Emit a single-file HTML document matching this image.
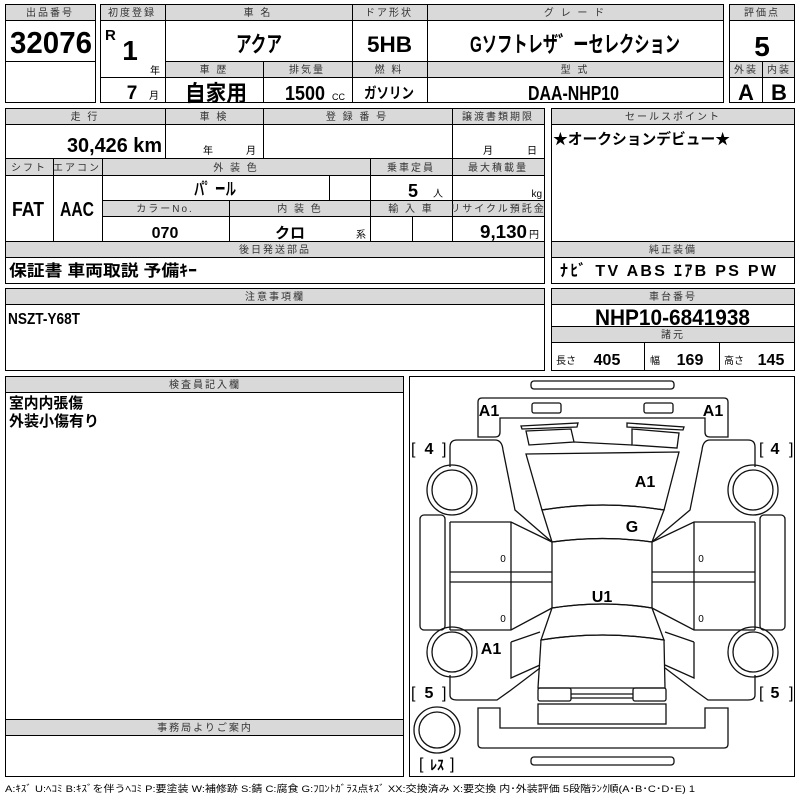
<!DOCTYPE html>
<html><head><meta charset="utf-8"><style>
html,body{margin:0;padding:0;background:#fff;width:800px;height:800px;overflow:hidden}
svg{display:block}
text{font-family:"Liberation Sans","Noto Sans CJK JP",sans-serif;fill:#000}
.h{font-size:10px;fill:#333;text-anchor:middle;letter-spacing:2px}
.b{font-weight:bold;font-family:"Liberation Sans Narrow","Liberation Sans","Noto Sans CJK JP",sans-serif}
.m{text-anchor:middle}
.e{text-anchor:end}
.g{fill:#d9d9d9}
.l{stroke:#000;stroke-width:1;fill:none}
.d{stroke:#111;stroke-width:1.3;fill:none}
</style></head><body>
<svg width="800" height="800" viewBox="0 0 800 800" xmlns="http://www.w3.org/2000/svg">
<!-- Box1 -->
<rect class="g" x="5" y="4" width="90" height="16"/>
<rect class="l" x="5.5" y="4.5" width="90" height="98"/>
<line class="l" x1="5" y1="20.5" x2="95" y2="20.5"/><line class="l" x1="5" y1="61.5" x2="95" y2="61.5"/>
<text class="h" x="50" y="16">出品番号</text>
<text class="b" x="10" y="53" font-size="31" textLength="82" lengthAdjust="spacingAndGlyphs">32076</text>
<!-- Box2 -->
<rect class="g" x="100" y="4" width="623" height="16"/>
<rect class="g" x="165" y="61" width="558" height="16"/>
<rect class="l" x="100.5" y="4.5" width="623" height="98"/>
<line class="l" x1="100" y1="20.5" x2="723" y2="20.5"/>
<line class="l" x1="165" y1="61.5" x2="723" y2="61.5"/>
<line class="l" x1="100" y1="77.5" x2="723" y2="77.5"/>
<line class="l" x1="165.5" y1="4" x2="165.5" y2="102"/>
<line class="l" x1="352.5" y1="4" x2="352.5" y2="102"/>
<line class="l" x1="427.5" y1="4" x2="427.5" y2="102"/>
<line class="l" x1="263.5" y1="61" x2="263.5" y2="102"/>
<text class="h" x="132" y="16" letter-spacing="0">初度登録</text>
<text class="h" x="258" y="16">車 名</text>
<text class="h" x="389" y="16" letter-spacing="0">ドア形状</text>
<text class="h" x="575" y="16">グ レ ー ド</text>
<text class="b" x="105" y="40" font-size="15">R</text>
<text class="b m" x="130" y="60" font-size="28">1</text>
<text x="150" y="74" font-size="10">年</text>
<text class="b" x="236" y="52" font-size="22" textLength="46" lengthAdjust="spacingAndGlyphs">アクア</text>
<text class="b" x="367" y="52" font-size="22" textLength="45" lengthAdjust="spacingAndGlyphs">5HB</text>
<text class="b" x="470" y="52" font-size="22" textLength="210" lengthAdjust="spacingAndGlyphs">Gソフトレザ゛ーセレクション</text>
<text class="h" x="214" y="73">車 歴</text>
<text class="h" x="307" y="73">排気量</text>
<text class="h" x="389" y="73">燃 料</text>
<text class="h" x="575" y="73">型 式</text>
<text class="b m" x="132" y="99" font-size="19">7</text>
<text x="149" y="99" font-size="10">月</text>
<text class="b" x="185" y="101" font-size="22" textLength="62" lengthAdjust="spacingAndGlyphs">自家用</text>
<text class="b" x="285" y="100" font-size="20" textLength="40" lengthAdjust="spacingAndGlyphs">1500</text>
<text x="332" y="100" font-size="9">CC</text>
<text class="b" x="364" y="98" font-size="15" textLength="50" lengthAdjust="spacingAndGlyphs">ガソリン</text>
<text class="b" x="528" y="100" font-size="20" textLength="91" lengthAdjust="spacingAndGlyphs">DAA-NHP10</text>
<!-- Box3 -->
<rect class="g" x="729" y="4" width="66" height="16"/>
<rect class="g" x="729" y="61" width="66" height="16"/>
<rect class="l" x="729.5" y="4.5" width="65" height="98"/>
<line class="l" x1="729" y1="20.5" x2="795" y2="20.5"/>
<line class="l" x1="729" y1="61.5" x2="795" y2="61.5"/>
<line class="l" x1="729" y1="77.5" x2="795" y2="77.5"/>
<line class="l" x1="762.5" y1="61" x2="762.5" y2="102"/>
<text class="h" x="762" y="16" letter-spacing="0">評価点</text>
<text class="b m" x="762" y="56" font-size="28">5</text>
<text class="h" x="746" y="73" letter-spacing="0">外装</text>
<text class="h" x="779" y="73" letter-spacing="0">内装</text>
<text class="b m" x="746" y="100" font-size="22">A</text>
<text class="b m" x="779" y="100" font-size="22">B</text>
<!-- Row2 left -->
<rect class="g" x="5" y="108" width="540" height="16"/>
<rect class="g" x="5" y="158" width="540" height="17"/>
<rect class="g" x="102" y="200" width="443" height="16"/>
<rect class="g" x="5" y="241" width="540" height="16"/>
<rect class="l" x="5.5" y="108.5" width="539" height="175"/>
<line class="l" x1="5" y1="124.5" x2="545" y2="124.5"/>
<line class="l" x1="5" y1="158.5" x2="545" y2="158.5"/>
<line class="l" x1="5" y1="175.5" x2="545" y2="175.5"/>
<line class="l" x1="102" y1="200.5" x2="545" y2="200.5"/>
<line class="l" x1="102" y1="216.5" x2="545" y2="216.5"/>
<line class="l" x1="5" y1="241.5" x2="545" y2="241.5"/>
<line class="l" x1="5" y1="257.5" x2="545" y2="257.5"/>
<line class="l" x1="165.5" y1="108" x2="165.5" y2="158"/>
<line class="l" x1="263.5" y1="108" x2="263.5" y2="158"/>
<line class="l" x1="452.5" y1="108" x2="452.5" y2="241"/>
<line class="l" x1="53.5" y1="158" x2="53.5" y2="241"/>
<line class="l" x1="102.5" y1="158" x2="102.5" y2="241"/>
<line class="l" x1="370.5" y1="158" x2="370.5" y2="241"/>
<line class="l" x1="329.5" y1="175" x2="329.5" y2="200"/>
<line class="l" x1="229.5" y1="200" x2="229.5" y2="241"/>
<line class="l" x1="412.5" y1="216" x2="412.5" y2="241"/>
<text class="h" x="85" y="120">走 行</text>
<text class="h" x="214" y="120">車 検</text>
<text class="h" x="357" y="120">登 録 番 号</text>
<text class="h" x="498" y="120" letter-spacing="0">譲渡書類期限</text>
<text class="b" x="67" y="152" font-size="20" textLength="95" lengthAdjust="spacingAndGlyphs">30,426 km</text>
<text x="203" y="154" font-size="10">年</text><text x="246" y="154" font-size="10">月</text>
<text x="483" y="154" font-size="10">月</text><text x="527" y="154" font-size="10">日</text>
<text class="h" x="29" y="171" letter-spacing="0">シフト</text>
<text class="h" x="77" y="171" letter-spacing="0">エアコン</text>
<text class="h" x="236" y="171">外 装 色</text>
<text class="h" x="411" y="171" letter-spacing="0">乗車定員</text>
<text class="h" x="498" y="171" letter-spacing="0">最大積載量</text>
<text class="b" x="12" y="216" font-size="20" textLength="32" lengthAdjust="spacingAndGlyphs">FAT</text>
<text class="b" x="60" y="216" font-size="20" textLength="34" lengthAdjust="spacingAndGlyphs">AAC</text>
<text class="b" x="194" y="195" font-size="17" textLength="42" lengthAdjust="spacingAndGlyphs">パ゜ール</text>
<text class="b m" x="413" y="197" font-size="18">5</text>
<text x="433" y="197" font-size="10">人</text>
<text class="e" x="542" y="197" font-size="10">kg</text>
<text class="h" x="165" y="212" letter-spacing="3">カラーNo.</text>
<text class="h" x="300" y="212">内 装 色</text>
<text class="h" x="411" y="212">輸 入 車</text>
<text class="h" x="498" y="212" letter-spacing="0">リサイクル預託金</text>
<text class="b m" x="165" y="238" font-size="16">070</text>
<text class="b m" x="290" y="238" font-size="15">クロ</text>
<text class="e" x="366" y="238" font-size="10">系</text>
<text class="b" x="480" y="238" font-size="18" textLength="47" lengthAdjust="spacingAndGlyphs">9,130</text>
<text x="529" y="238" font-size="10">円</text>
<text class="h" x="275" y="253" letter-spacing="3">後日発送部品</text>
<text class="b" x="9" y="276" font-size="16" textLength="188" lengthAdjust="spacingAndGlyphs">保証書 車両取説 予備ｷｰ</text>
<!-- Row2 right -->
<rect class="g" x="551" y="108" width="244" height="16"/>
<rect class="g" x="551" y="241" width="244" height="16"/>
<rect class="l" x="551.5" y="108.5" width="243" height="175"/>
<line class="l" x1="551" y1="124.5" x2="795" y2="124.5"/>
<line class="l" x1="551" y1="241.5" x2="795" y2="241.5"/>
<line class="l" x1="551" y1="257.5" x2="795" y2="257.5"/>
<text class="h" x="673" y="120" letter-spacing="5">セールスポイント</text>
<text class="b" x="553" y="144" font-size="15" textLength="177" lengthAdjust="spacingAndGlyphs">★オークションデビュー★</text>
<text class="h" x="673" y="253" letter-spacing="4">純正装備</text>
<text class="b" x="560" y="276" font-size="16" textLength="216" lengthAdjust="spacing">ﾅﾋﾞ  TV  ABS ｴｱB PS PW</text>
<!-- Row3 -->
<rect class="g" x="5" y="288" width="540" height="16"/>
<rect class="l" x="5.5" y="288.5" width="539" height="82"/>
<line class="l" x1="5" y1="304.5" x2="545" y2="304.5"/>
<text class="h" x="275" y="300">注意事項欄</text>
<text class="b" x="8" y="324" font-size="16" textLength="72" lengthAdjust="spacingAndGlyphs">NSZT-Y68T</text>
<rect class="g" x="551" y="288" width="244" height="16"/>
<rect class="g" x="551" y="326" width="244" height="16"/>
<rect class="l" x="551.5" y="288.5" width="243" height="82"/>
<line class="l" x1="551" y1="304.5" x2="795" y2="304.5"/>
<line class="l" x1="551" y1="326.5" x2="795" y2="326.5"/>
<line class="l" x1="551" y1="342.5" x2="795" y2="342.5"/>
<line class="l" x1="644.5" y1="342" x2="644.5" y2="370"/>
<line class="l" x1="719.5" y1="342" x2="719.5" y2="370"/>
<text class="h" x="673" y="300">車台番号</text>
<text class="b" x="595" y="325" font-size="22" textLength="155" lengthAdjust="spacingAndGlyphs">NHP10-6841938</text>
<text class="h" x="673" y="338">諸元</text>
<text x="556" y="364" font-size="10">長さ</text>
<text class="b m" x="607" y="365" font-size="16">405</text>
<text x="650" y="364" font-size="10">幅</text>
<text class="b m" x="690" y="365" font-size="16">169</text>
<text x="724" y="364" font-size="10">高さ</text>
<text class="b m" x="771" y="365" font-size="16">145</text>
<!-- Row4 left -->
<rect class="g" x="5" y="376" width="399" height="16"/>
<rect class="g" x="5" y="719" width="399" height="16"/>
<rect class="l" x="5.5" y="376.5" width="398" height="400"/>
<line class="l" x1="5" y1="392.5" x2="404" y2="392.5"/>
<line class="l" x1="5" y1="719.5" x2="404" y2="719.5"/>
<line class="l" x1="5" y1="735.5" x2="404" y2="735.5"/>
<text class="h" x="205" y="388" letter-spacing="4">検査員記入欄</text>
<text class="b" x="9" y="408" font-size="15" textLength="74" lengthAdjust="spacingAndGlyphs">室内内張傷</text>
<text class="b" x="9" y="426" font-size="15" textLength="90" lengthAdjust="spacingAndGlyphs">外装小傷有り</text>
<text class="h" x="205" y="731" letter-spacing="6">事務局よりご案内</text>
<!-- Diagram -->
<rect class="l" x="409.5" y="376.5" width="385" height="400"/>
<g class="d">
<rect x="531" y="381" width="143" height="8" rx="3"/>
<path d="M478 437 L478 402 Q478 398 482 398 L724 398 Q728 398 728 402 L728 437 L710 437 Q705 437 705 432 L705 418 L500 418 L500 432 Q500 437 495 437 Z"/>
<rect x="532" y="403" width="29" height="10" rx="2"/>
<rect x="644" y="403" width="29" height="10" rx="2"/>
<path d="M521 426 L578 423 L577 427 L522 429 Z"/>
<path d="M526 431 L571 429 L574 442 L529 445 Z"/>
<path d="M627 423 L684 427 L683 430 L627 427 Z"/>
<path d="M632 429 L679 433 L677 448 L632 445 Z"/>
<path d="M574 442 L632 445"/>
<path d="M526 454 L679 452 L664 510 Q603 500 542 510 Z"/>
<path d="M542 510 Q603 500 664 510 L652 542 Q603 535 552 542 Z"/>
<path d="M552 542 Q603 535 652 542 L652 608 Q603 600 552 608 Z"/>
<path d="M552 608 Q603 600 652 608 L664 640 Q603 630 541 640 Z"/>
<path d="M541 640 Q603 630 664 640 L665 688 L538 688 Z"/>
<rect x="538" y="688" width="33" height="13" rx="2"/>
<rect x="633" y="688" width="33" height="13" rx="2"/>
<path d="M571 694 L633 694 M571 698 L633 698"/>
<rect x="538" y="704" width="128" height="20"/>
<path d="M478 708 L478 744 Q478 748 482 748 L724 748 Q728 748 728 744 L728 708 L705 708 L705 728 L500 728 L500 708 Z"/>
<rect x="531" y="757" width="143" height="8" rx="3"/>
<path d="M450 467 L450 447 Q450 440 457 440 L495 440 Q502 440 503 450 L515 510 L552 542"/>
<path d="M450 522 L511 522 L552 542 M511 522 L511 630 M450 630 L511 630 L552 608 M450 522 L450 630"/>
<path d="M450 572 L552 572 M450 582 L552 582"/>
<rect x="420" y="515" width="25" height="115" rx="4"/>
<path d="M511 642 L540 632 M511 642 L511 678 L540 665"/>
<path d="M450 675 L450 695 Q450 700 457 700 L497 700 L511 690 L540 668"/>
<path d="M755 467 L755 447 Q755 440 748 440 L710 440 Q703 440 702 450 L690 510 L652 542"/>
<path d="M755 522 L694 522 L652 542 M694 522 L694 630 M755 630 L694 630 L652 608 M755 522 L755 630"/>
<path d="M755 572 L652 572 M755 582 L652 582"/>
<rect x="760" y="515" width="25" height="115" rx="4"/>
<path d="M694 642 L665 632 M694 642 L694 678 L665 665"/>
<path d="M755 675 L755 695 Q755 700 748 700 L708 700 L694 690 L665 668"/>
<circle cx="452" cy="490" r="25"/><circle cx="452" cy="490" r="20"/>
<circle cx="753" cy="490" r="25"/><circle cx="753" cy="490" r="20"/>
<circle cx="452" cy="652" r="25"/><circle cx="452" cy="652" r="20"/>
<circle cx="753" cy="652" r="25"/><circle cx="753" cy="652" r="20"/>
<circle cx="437" cy="730" r="23"/><circle cx="437" cy="730" r="18"/>
</g>
<g font-size="10"><text class="m" x="503" y="562">0</text><text class="m" x="503" y="622">0</text><text class="m" x="701" y="562">0</text><text class="m" x="701" y="622">0</text></g>
<g class="b" font-size="16">
<text class="m" x="489" y="416">A1</text>
<text class="m" x="713" y="416">A1</text>
<text class="m" x="645" y="487">A1</text>
<text class="m" x="632" y="532">G</text>
<text class="m" x="602" y="602">U1</text>
<text class="m" x="491" y="654">A1</text>
<text x="411" y="454" font-weight="normal">[ </text><text class="m" x="429" y="454">4</text><text x="442" y="454" font-weight="normal">]</text>
<text x="759" y="454" font-weight="normal">[ </text><text class="m" x="775" y="454">4</text><text x="789" y="454" font-weight="normal">]</text>
<text x="411" y="698" font-weight="normal">[ </text><text class="m" x="429" y="698">5</text><text x="442" y="698" font-weight="normal">]</text>
<text x="759" y="698" font-weight="normal">[ </text><text class="m" x="775" y="698">5</text><text x="789" y="698" font-weight="normal">]</text>
<text x="419" y="769" font-weight="normal">[</text><text class="m" x="437" y="770" font-size="14">ﾚｽ</text><text x="450" y="769" font-weight="normal">]</text>
</g>
<text x="5" y="792" font-size="9.5" textLength="690" lengthAdjust="spacingAndGlyphs">A:ｷｽﾞ U:ﾍｺﾐ B:ｷｽﾞを伴うﾍｺﾐ P:要塗装 W:補修跡 S:錆 C:腐食 G:ﾌﾛﾝﾄｶﾞﾗｽ点ｷｽﾞ XX:交換済み X:要交換  内･外装評価  5段階ﾗﾝｸ順(A･B･C･D･E) 1</text>
</svg>
</body></html>
